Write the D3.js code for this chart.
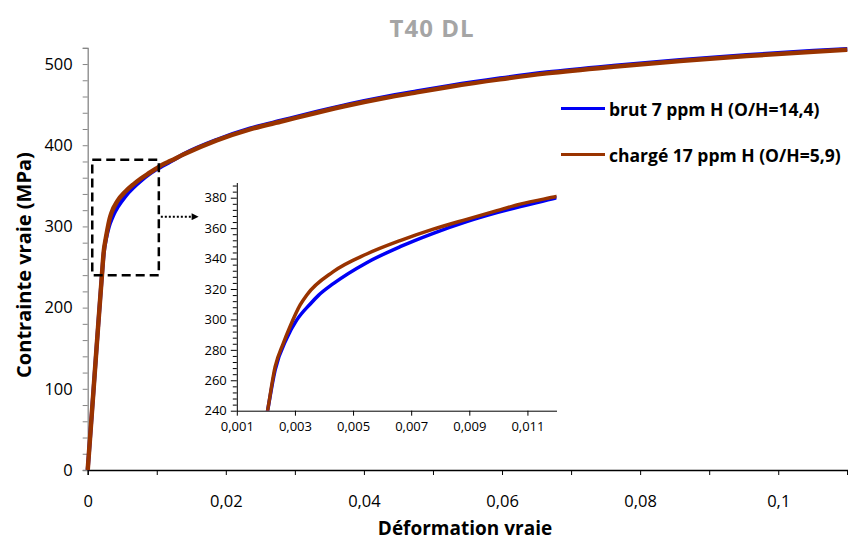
<!DOCTYPE html>
<html><head><meta charset="utf-8">
<script src="https://cdn.jsdelivr.net/npm/d3@7/dist/d3.min.js"></script>
<style>
html,body{margin:0;padding:0;background:#fff;}
text{font-family:"Open Sans",Lato,sans-serif;}
</style></head>
<body><svg id="c" width="848" height="542"></svg>
<script>
// ---------- DATA ----------
const title = "T40 DL";
const xLabel = "Déformation vraie";
const yLabel = "Contrainte vraie (MPa)";
const seriesNames = ["brut 7 ppm H (O/H=14,4)", "chargé 17 ppm H (O/H=5,9)"];

const strainBrut = [0, 0.0005, 0.001, 0.0015, 0.00206, 0.00232, 0.00272, 0.00306, 0.00352, 0.00381, 0.00432, 0.00547, 0.00662, 0.00776, 0.00891, 0.00995, 0.012, 0.01385, 0.01868, 0.0235, 0.02833, 0.03316, 0.038, 0.0428, 0.04765, 0.05247, 0.0597, 0.06647, 0.07612, 0.08578, 0.09544, 0.1051, 0.11];
const stressBrut = [0, 58, 117, 176, 240, 266.8, 287.6, 299.5, 310, 315.8, 323.5, 337.3, 347.8, 356.6, 364.3, 370.2, 380, 388.9, 406.7, 420.6, 431, 441.2, 450.8, 459.1, 466.4, 473.3, 482.4, 489.8, 498, 505, 511.1, 516.3, 518.5];

const strainCharge = [0, 0.0005, 0.001, 0.0015, 0.00206, 0.00232, 0.0026, 0.00283, 0.00318, 0.00341, 0.00432, 0.00547, 0.00662, 0.00776, 0.00891, 0.00995, 0.01075, 0.012, 0.01385, 0.01868, 0.0235, 0.02833, 0.03316, 0.038, 0.0428, 0.04765, 0.05247, 0.0597, 0.06647, 0.07612, 0.08578, 0.09544, 0.1051, 0.11];
const stressCharge = [0, 58, 117, 176, 240, 268.9, 284.3, 295.2, 309.5, 316.1, 331.4, 343, 351.8, 359.3, 365.8, 371.5, 375.8, 380.8, 388.5, 406, 419.6, 429.8, 440, 449.5, 457.8, 465.1, 472, 481.1, 488.5, 496.7, 503.7, 509.9, 515.2, 517.5];

const xTicksMain = [0, 0.02, 0.04, 0.06, 0.08, 0.1];
const xMinorMain = [0.01, 0.03, 0.05, 0.07, 0.09, 0.11];
const yTicksMain = [0, 100, 200, 300, 400, 500];
const yMinorMain = [20, 40, 60, 80, 120, 140, 160, 180, 220, 240, 260, 280, 320, 340, 360, 380, 420, 440, 460, 480, 520];

const xTicksInset = [0.001, 0.003, 0.005, 0.007, 0.009, 0.011];
const yTicksInset = [240, 260, 280, 300, 320, 340, 360, 380];
const yMinorInset = [244, 248, 252, 256, 264, 268, 272, 276, 284, 288, 292, 296, 304, 308, 312, 316, 324, 328, 332, 336, 344, 348, 352, 356, 364, 368, 372, 376, 384, 388];

// zoom box (data units of main chart) and arrow
const zoomBoxX = [0.00066, 0.0103];
const zoomBoxY = [240, 382];
const arrowX = [0.0103, 0.0165];
const arrowY = 312;

// ---------- LAYOUT ----------
const colors = ["#0000f5", "#993300"];
const svg = d3.select("#c");
const fmt = v => (v === 0 ? "0" : String(+v.toFixed(4)).replace(".", ","));

const x = d3.scaleLinear().domain([0, 0.11]).range([87.7, 847.3]);
const y = d3.scaleLinear().domain([0, 520]).range([470, 47.8]);

const xi = d3.scaleLinear().domain([0.001, 0.012]).range([236.8, 556.5]);
const yi = d3.scaleLinear().domain([240, 390]).range([410.7, 182.5]);

const brut = strainBrut.map((e, i) => [e, stressBrut[i]]);
const charge = strainCharge.map((e, i) => [e, stressCharge[i]]);

// title
svg.append("text").attr("x", 432).attr("y", 37).attr("text-anchor", "middle")
  .attr("font-size", 24).attr("letter-spacing", 1).attr("font-weight", "bold").attr("fill", "#a5a5a5").text(title);

// main axes
const gy = svg.append("g").attr("transform", `translate(${x(0)},0)`)
  .call(d3.axisLeft(y).tickValues(yTicksMain).tickFormat(fmt).tickSize(5).tickPadding(10));
gy.append("g").call(d3.axisLeft(y).tickValues(yMinorMain).tickFormat("").tickSize(5))
  .select("path.domain").remove();
gy.selectAll("path.domain").attr("stroke", "#868686").attr("stroke-width", 1.3);
gy.selectAll(".tick line").attr("stroke", "#868686");
gy.selectAll("text").attr("font-size", 16.5).attr("fill", "#000").style("font-family", "Open Sans");

const gx = svg.append("g").attr("transform", `translate(0,${y(0)})`)
  .call(d3.axisBottom(x).tickValues(xTicksMain).tickFormat(fmt).tickSize(5).tickPadding(20));
gx.append("g").call(d3.axisBottom(x).tickValues(xMinorMain).tickFormat("").tickSize(5))
  .select("path.domain").remove();
gx.selectAll("path.domain").attr("stroke", "#000").attr("stroke-width", 1.3);
gx.selectAll("text").attr("font-size", 16.5).attr("fill", "#000").style("font-family", "Open Sans");

// axis labels
svg.append("text").attr("transform", "translate(31,265) rotate(-90)").attr("text-anchor", "middle")
  .attr("font-size", 20).attr("font-weight", "bold").text(yLabel);
svg.append("text").attr("x", 465).attr("y", 535).attr("text-anchor", "middle")
  .attr("font-size", 19).attr("font-weight", "bold").text(xLabel);

// main lines
const line = d3.line().x(d => x(d[0])).y(d => y(d[1])).curve(d3.curveMonotoneX);
svg.append("path").datum(brut).attr("d", line).attr("fill", "none")
  .attr("stroke", colors[0]).attr("stroke-width", 4);
svg.append("path").datum(charge).attr("d", line).attr("fill", "none")
  .attr("stroke", colors[1]).attr("stroke-width", 4.5);

// zoom box
svg.append("rect").attr("x", x(zoomBoxX[0])).attr("y", y(zoomBoxY[1]))
  .attr("width", x(zoomBoxX[1]) - x(zoomBoxX[0])).attr("height", y(zoomBoxY[0]) - y(zoomBoxY[1]))
  .attr("fill", "none").attr("stroke", "#000").attr("stroke-width", 2.5).attr("stroke-dasharray", "9,5");

// arrow
svg.append("defs").append("marker").attr("id", "ah").attr("viewBox", "0 0 10 10")
  .attr("refX", 0).attr("refY", 5).attr("markerWidth", 10).attr("markerHeight", 7)
  .attr("markerUnits", "userSpaceOnUse").attr("orient", "auto")
  .append("path").attr("d", "M0,0 L10,5 L0,10 z").attr("fill", "#000");
svg.append("line").attr("x1", x(arrowX[0]) + 2).attr("x2", x(arrowX[1]) - 10)
  .attr("y1", y(arrowY)).attr("y2", y(arrowY))
  .attr("stroke", "#000").attr("stroke-width", 2).attr("stroke-dasharray", "2,2")
  .attr("marker-end", "url(#ah)");

// ---------- INSET ----------
svg.append("clipPath").attr("id", "ic").append("rect")
  .attr("x", xi.range()[0]).attr("y", yi.range()[1])
  .attr("width", xi.range()[1] - xi.range()[0]).attr("height", yi.range()[0] - yi.range()[1]);

const iy = svg.append("g").attr("transform", `translate(${xi.range()[0]},0)`)
  .call(d3.axisLeft(yi).tickValues(yTicksInset).tickFormat(fmt).tickSize(6).tickPadding(4).tickSizeOuter(0));
iy.append("g").call(d3.axisLeft(yi).tickValues(yMinorInset).tickFormat("").tickSize(4))
  .select("path.domain").remove();
iy.selectAll("text").attr("font-size", 13).attr("fill", "#000").style("font-family", "Open Sans");
iy.selectAll("path.domain").attr("stroke", "#000");

const ix = svg.append("g").attr("transform", `translate(0,${yi.range()[0]})`)
  .call(d3.axisBottom(xi).tickValues(xTicksInset).tickFormat(fmt).tickSize(5).tickPadding(6).tickSizeOuter(0));
ix.selectAll("text").attr("font-size", 13).attr("fill", "#000").style("font-family", "Open Sans");

const lineI = d3.line().x(d => xi(d[0])).y(d => yi(d[1])).curve(d3.curveMonotoneX);
const gi = svg.append("g").attr("clip-path", "url(#ic)");
gi.append("path").datum(brut).attr("d", lineI).attr("fill", "none")
  .attr("stroke", colors[0]).attr("stroke-width", 3.5);
gi.append("path").datum(charge).attr("d", lineI).attr("fill", "none")
  .attr("stroke", colors[1]).attr("stroke-width", 3.5);

// ---------- LEGEND ----------
const legend = svg.append("g");
seriesNames.forEach((name, i) => {
  const ly = 108.5 + i * 46;
  legend.append("line").attr("x1", 561).attr("x2", 605).attr("y1", ly).attr("y2", ly)
    .attr("stroke", colors[i]).attr("stroke-width", 3);
  legend.append("text").attr("x", 609).attr("y", ly + 7.5).attr("font-size", 17.5)
    .attr("font-weight", "bold").text(name);
});
</script></body></html>
